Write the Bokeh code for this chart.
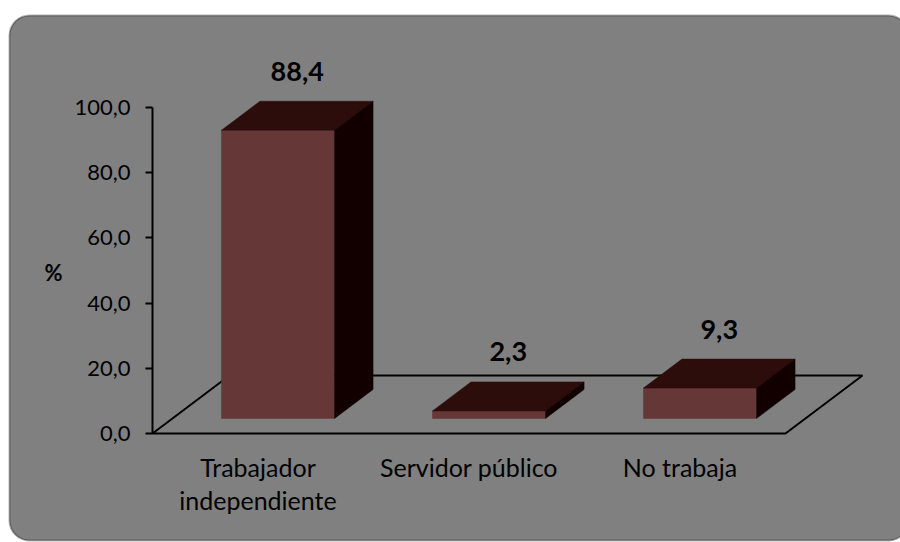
from bokeh.plotting import figure
from bokeh.models import FixedTicker, LinearAxis, BoxAnnotation, Label, Range1d, ColumnDataSource
from bokeh.core.properties import value
from bokeh.embed import file_html
from bokeh.resources import INLINE

# ---------------- data ----------------
categories = ["Trabajador\nindependiente", "Servidor público", "No trabaja"]
percent = [88.4, 2.3, 9.3]
value_labels = ["88,4", "2,3", "9,3"]
y_ticks = [0, 20, 40, 60, 80, 100]
y_tick_labels = ["0,0", "20,0", "40,0", "60,0", "80,0", "100,0"]
axis_title = "%"

# ---------------- layout / style constants (px) ----------------
W, H = 900, 542
ORIGIN_X, ORIGIN_Y = 152, 433   # pixel position of (first category edge, value 0)
PX_X = 211.0                    # px per category slot
PX_Y = 3.26                     # px per percentage point

DEPTH_X = 77 / PX_X             # full floor depth, in x units
DEPTH_Y = 58 / PX_Y             # full floor depth, in y units
BAR_FRONT = 0.26                # depth fraction of bar front face
BAR_DEPTH = 0.5                 # depth fraction occupied by bar
BAR_HALF = 0.268                # half bar width in x units

FRONT = "#653737"
TOP = "#2d0d0b"
SIDE = "#120000"
BG = "#808080"
FONT = "Lato"


def dx(px):
    return (px - ORIGIN_X) / PX_X


def dy(py):
    return (ORIGIN_Y - py) / PX_Y


p = figure(width=W, height=H, x_range=Range1d(dx(0), dx(W)), y_range=Range1d(dy(H), dy(0)),
           output_backend="svg", toolbar_location=None,
           x_axis_location=None, y_axis_location=None,
           min_border_left=0, min_border_right=0, min_border_top=0, min_border_bottom=0)
p.grid.visible = False
p.outline_line_color = None
p.background_fill_color = "white"
p.border_fill_color = "white"

# rounded grey chart area
bg = BoxAnnotation(left=dx(9), right=dx(908), top=dy(15), bottom=dy(540),
                   fill_color=BG, fill_alpha=1.0, line_color="black", line_width=2,
                   border_radius=20, level="underlay")
p.add_layout(bg)

# y axis (drawn at the floor's front-left corner)
yaxis = LinearAxis(ticker=FixedTicker(ticks=y_ticks), bounds=(0, 100), fixed_location=0,
                   major_label_overrides=dict(zip(y_ticks, y_tick_labels)),
                   axis_line_color="black", axis_line_width=2,
                   major_tick_line_color="black", major_tick_line_width=2,
                   major_tick_out=7, major_tick_in=0,
                   minor_tick_line_color=None, major_label_standoff=15,
                   major_label_text_font=FONT, major_label_text_font_size="22px",
                   major_label_text_color="black")
p.add_layout(yaxis, "left")

# x axis (categories)
n = len(categories)
x_ticks = [i + 0.5 for i in range(n)]
xaxis = LinearAxis(ticker=FixedTicker(ticks=x_ticks), fixed_location=0,
                   major_label_overrides=dict(zip(x_ticks, categories)),
                   axis_line_color=None, major_tick_line_color=None,
                   minor_tick_line_color=None, major_tick_out=0, major_tick_in=0,
                   major_label_standoff=18,
                   major_label_text_font=FONT, major_label_text_font_size="25px",
                   major_label_text_line_height=1.1,
                   major_label_text_color="black")
p.add_layout(xaxis, "below")

# floor outline
p.patch([0, n, n + DEPTH_X, DEPTH_X], [0, 0, DEPTH_Y, DEPTH_Y],
        fill_color=None, line_color="black", line_width=2)

# bars
fx = BAR_FRONT * DEPTH_X
fy = BAR_FRONT * DEPTH_Y
bx = BAR_DEPTH * DEPTH_X
by = BAR_DEPTH * DEPTH_Y
L = [i + 0.5 + fx - BAR_HALF for i in range(n)]
R = [i + 0.5 + fx + BAR_HALF for i in range(n)]
B = [fy for _ in percent]
T = [fy + v for v in percent]

p.quad(left=L, right=R, bottom=B, top=T, fill_color=FRONT, line_color=FRONT, line_width=0.5)
top_xs = [[l, l + bx, r + bx, r] for l, r in zip(L, R)]
top_ys = [[t, t + by, t + by, t] for t in T]
p.patches(top_xs, top_ys, fill_color=TOP, line_color=TOP, line_width=0.5)
side_xs = [[r, r, r + bx, r + bx] for r in R]
side_ys = [[b, t, t + by, b + by] for b, t in zip(B, T)]
p.patches(side_xs, side_ys, fill_color=SIDE, line_color=SIDE, line_width=0.5)

# value labels
lab = ColumnDataSource(dict(x=[(l + r) / 2 + bx / 2 for l, r in zip(L, R)],
                            y=[t + by for t in T], t=value_labels))
p.text(x="x", y="y", text="t", source=lab, text_font=value(FONT), text_font_style="bold",
       text_font_size="27px", text_align="center", text_baseline="middle",
       y_offset=-30, text_color="black")

# axis title "%"
p.add_layout(Label(x=dx(53), y=dy(272), text=axis_title,
                   text_font=FONT, text_font_style="bold", text_font_size="22px",
                   text_align="center", text_baseline="middle", text_color="black"))

open("out.html", "w").write(file_html(p, INLINE))
